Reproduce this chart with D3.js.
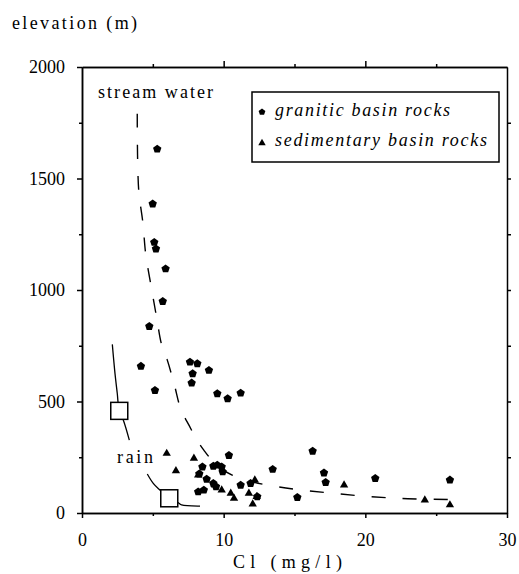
<!DOCTYPE html>
<html>
<head>
    <meta charset="utf-8">
</head>
<body style="margin:0">
    <script src="https://cdn.jsdelivr.net/npm/d3@7"></script>
    <script>
        // granitic basin rocks (Cl mg/l, elevation m)
        var graniticCl = [5.31, 4.99, 5.10, 5.22, 5.90, 5.70, 4.75, 4.16, 5.15, 7.62, 8.14, 7.81, 7.74, 8.96,
            9.55, 10.28, 11.20, 10.37, 8.50, 9.27, 9.55, 9.86, 9.93, 8.28, 8.80, 9.27, 9.46, 8.20, 8.60,
            11.20, 11.90, 13.46, 16.28, 17.08, 17.20, 15.20, 20.70, 12.37, 25.97];
        var graniticElev = [1632, 1386, 1214, 1184, 1095, 949, 837, 658, 550, 677, 670, 625, 583, 640,
            535, 513, 538, 258, 207, 210, 215, 207, 185, 175, 152, 133, 118, 95, 103,
            125, 133, 196, 277, 180, 137, 70, 155, 73, 148];

        // sedimentary basin rocks
        var sedimentaryCl = [5.98, 6.63, 7.90, 8.20, 9.39, 9.86, 10.50, 10.73, 11.78, 12.05, 12.33, 12.20, 18.50, 24.20, 25.97];
        var sedimentaryElev = [267, 189, 245, 170, 125, 103, 88, 66, 88, 40, 73, 148, 125, 58, 36];

        // stream water curve (dashed)
        var streamCl = [3.9, 4.0, 4.3, 4.5, 4.9, 5.3, 5.6, 6.0, 6.5, 7.0, 7.5, 8.0, 8.6, 9.5, 10.6, 12.0, 13.8, 15.5, 17.5, 20.0, 23.0, 27.0];
        var streamElev = [1790, 1450, 1300, 1160, 1010, 865, 760, 690, 580, 460, 400, 340, 282, 215, 170, 140, 118, 103, 90, 75, 64, 60];

        // rain curve (gap where the label sits)
        var rainCl = [2.14, 2.33, 2.49, 2.63, 2.92, 3.34, null, 4.61, 5.03, 5.5, 6.16, 6.8, 7.03, 8.33];
        var rainElev = [756, 625, 536, 458, 416, 327, null, 175, 133, 103, 66, 46, 36, 31];

        // rain samples (open squares)
        var rainSampleCl = [2.63, 6.16];
        var rainSampleElev = [458, 66];

        var xMajor = [0, 10, 20, 30], xMinor = [5, 15, 25];
        var yMajor = [0, 500, 1000, 1500, 2000], yMinor = [250, 750, 1250, 1750];

        var serif = "'Liberation Serif'";

        var margin = { top: 67, right: 12, bottom: 61, left: 82 },
            width = 519 - margin.left - margin.right,
            height = 574 - margin.top - margin.bottom;

        var x = d3.scaleLinear().domain([0, 30]).range([0, width]);
        var y = d3.scaleLinear().domain([0, 2000]).range([height, 0]);

        var root = d3.select("body").append("svg")
            .attr("width", 519)
            .attr("height", 574)
            .style("display", "block");
        var svg = root.append("g")
            .attr("transform", "translate(" + margin.left + "," + margin.top + ")");

        // axes on all four sides
        function axisGroup() {
            return svg.append("g").attr("class", "axis");
        }
        axisGroup()
            .attr("transform", "translate(0," + height + ")")
            .call(d3.axisBottom(x).tickValues(xMajor).tickSize(5).tickSizeOuter(0).tickPadding(15).tickFormat(d3.format("d")));
        axisGroup()
            .attr("transform", "translate(0," + height + ")")
            .call(d3.axisBottom(x).tickValues(xMinor).tickSize(3).tickSizeOuter(0).tickFormat(""));
        axisGroup()
            .call(d3.axisLeft(y).tickValues(yMajor).tickSize(5).tickSizeOuter(0).tickPadding(12).tickFormat(d3.format("d")));
        axisGroup()
            .call(d3.axisLeft(y).tickValues(yMinor).tickSize(3).tickSizeOuter(0).tickFormat(""));
        axisGroup()
            .call(d3.axisTop(x).tickValues([10, 20]).tickSize(6).tickSizeOuter(0).tickFormat(""));
        axisGroup()
            .call(d3.axisTop(x).tickValues(xMinor).tickSize(3).tickSizeOuter(0).tickFormat(""));
        axisGroup()
            .attr("transform", "translate(" + width + ",0)")
            .call(d3.axisRight(y).tickValues(yMinor.concat([500, 1000, 1500])).tickSize(4).tickSizeOuter(0).tickFormat(""));

        svg.selectAll(".axis").attr("font-family", null).attr("font-size", null);
        svg.selectAll(".axis path, .axis line")
            .style("stroke", "#000")
            .style("stroke-width", "1.5px");
        svg.selectAll(".axis text")
            .style("font-family", serif)
            .style("font-size", "18px")
            .style("fill", "#000");

        // curves
        var streamData = streamCl.map(function (d, i) { return { cl: d, elev: streamElev[i] }; });
        var rainData = rainCl.map(function (d, i) { return { cl: d, elev: rainElev[i] }; });

        var curve = d3.line()
            .defined(function (d) { return d.cl !== null; })
            .curve(d3.curveCatmullRom)
            .x(function (d) { return x(d.cl); })
            .y(function (d) { return y(d.elev); });

        svg.append("path").datum(streamData)
            .attr("d", curve)
            .style("fill", "none").style("stroke", "#000")
            .style("stroke-width", 1.4).style("stroke-dasharray", "14,17");
        svg.append("path").datum(rainData)
            .attr("d", curve)
            .style("fill", "none").style("stroke", "#000").style("stroke-width", 1.3);

        // markers
        var symbolPentagon = {
            draw: function (ctx, size) {
                var r = Math.sqrt(size / 2.378);
                for (var i = 0; i < 5; i++) {
                    var a = -Math.PI / 2 + i * 2 * Math.PI / 5;
                    if (i === 0) ctx.moveTo(r * Math.cos(a), r * Math.sin(a));
                    else ctx.lineTo(r * Math.cos(a), r * Math.sin(a));
                }
                ctx.closePath();
            }
        };

        svg.selectAll(".granitic")
            .data(graniticCl)
            .enter().append("path")
            .attr("class", "granitic")
            .attr("d", d3.symbol().type(symbolPentagon).size(46))
            .attr("transform", function (d, i) { return "translate(" + x(d) + "," + y(graniticElev[i]) + ")"; })
            .style("fill", "#000");

        svg.selectAll(".sedimentary")
            .data(sedimentaryCl)
            .enter().append("path")
            .attr("class", "sedimentary")
            .attr("d", d3.symbol().type(d3.symbolTriangle).size(30))
            .attr("transform", function (d, i) { return "translate(" + x(d) + "," + y(sedimentaryElev[i]) + ")"; })
            .style("fill", "#000");

        svg.selectAll(".sample")
            .data(rainSampleCl)
            .enter().append("rect")
            .attr("class", "sample")
            .attr("x", function (d) { return x(d) - 8.5; })
            .attr("y", function (d, i) { return y(rainSampleElev[i]) - 8.5; })
            .attr("width", 17)
            .attr("height", 17)
            .style("fill", "#fff")
            .style("stroke", "#000")
            .style("stroke-width", 1.5);

        // text labels, spread with letter-spacing to the width they have in the figure
        function label(parent, txt, tx, ty, len, italic) {
            var t = parent.append("text")
                .attr("x", tx).attr("y", ty)
                .style("font-family", serif)
                .style("font-size", "18px")
                .style("font-style", italic ? "italic" : "normal")
                .style("fill", "#000")
                .text(txt);
            var natural = t.node().getComputedTextLength();
            var gap = (len - natural) / (txt.length - 1);
            if (gap > 0) t.style("letter-spacing", gap.toFixed(2) + "px");
            return t;
        }
        label(root, "elevation (m)", 12, 29, 125);
        label(root, "stream water", 98, 98, 115);
        label(root, "rain", 117, 463, 36);
        label(root, "Cl (mg/l)", 233, 568, 109);

        // legend
        var legend = root.append("g");
        legend.append("rect")
            .attr("x", 252).attr("y", 92)
            .attr("width", 247).attr("height", 70)
            .style("fill", "#fff").style("stroke", "#000").style("stroke-width", 1.5);
        legend.append("path")
            .attr("d", d3.symbol().type(symbolPentagon).size(30))
            .attr("transform", "translate(262,112)");
        legend.append("path")
            .attr("d", d3.symbol().type(d3.symbolTriangle).size(24))
            .attr("transform", "translate(262,143)");
        label(legend, "granitic basin rocks", 275, 116, 175, true);
        label(legend, "sedimentary basin rocks", 275, 146, 212, true);
    </script>
</body>
</html>
